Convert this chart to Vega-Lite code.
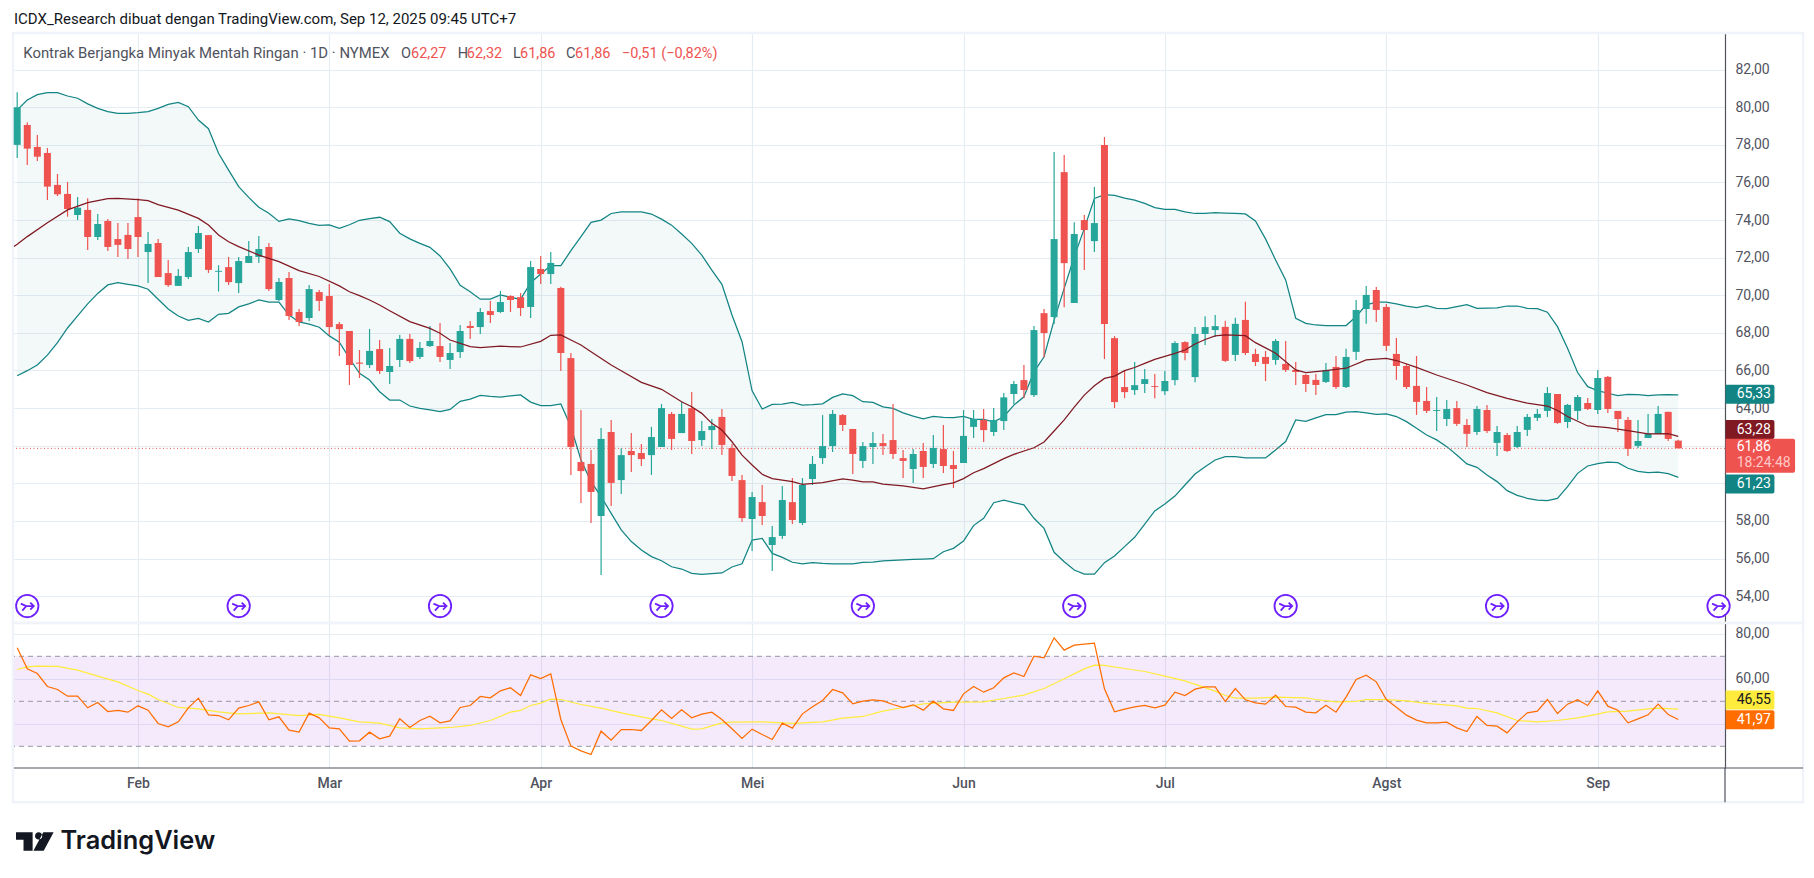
{
  "$schema": "https://vega.github.io/schema/vega-lite/v6.json",
  "description": "Light crude oil futures daily candles with Bollinger bands and RSI, Jan to Sep 2025.",
  "background": "white",
  "padding": {"left": 11, "top": 11, "right": 0, "bottom": 0},
  "title": {
    "text": "ICDX_Research dibuat dengan TradingView.com, Sep 12, 2025 09:45 UTC+7",
    "anchor": "start",
    "frame": "group",
    "font": "Roboto",
    "fontSize": 15,
    "fontWeight": "normal",
    "color": "#131722",
    "offset": 5
  },
  "bounds": "flush",
  "spacing": 0,
  "config": {
    "view": {"stroke": null},
    "axis": {
      "title": null,
      "ticks": false,
      "domain": false,
      "gridColor": "#e6edf2",
      "gridWidth": 1.2,
      "labelFont": "Roboto",
      "labelFontSize": 14,
      "labelColor": "#50535e"
    },
    "text": {"font": "Roboto", "fontSize": 14.5}
  },
  "datasets": {
    "bars": [
      {"i":0,"o":78,"h":80.8,"l":77.3,"c":80,"up":79.86,"lo":65.72,"rsi":73.77},
      {"i":1,"o":79.06,"h":79.2,"l":76.93,"c":77.8,"up":80.39,"lo":65.99,"rsi":64.43},
      {"i":2,"o":77.89,"h":78.53,"l":77.14,"c":77.37,"up":80.67,"lo":66.29,"rsi":62.36},
      {"i":3,"o":77.57,"h":77.83,"l":75.07,"c":75.78,"up":80.78,"lo":66.82,"rsi":56.58},
      {"i":4,"o":75.87,"h":76.45,"l":75.28,"c":75.37,"up":80.78,"lo":67.48,"rsi":55.25},
      {"i":5,"o":75.39,"h":76.03,"l":74.18,"c":74.59,"up":80.6,"lo":68.26,"rsi":52.29},
      {"i":6,"o":74.27,"h":75.23,"l":74,"c":74.66,"up":80.48,"lo":68.9,"rsi":52.29},
      {"i":7,"o":74.54,"h":75.16,"l":72.41,"c":73.1,"up":80.18,"lo":69.54,"rsi":47.1},
      {"i":8,"o":73.1,"h":74.32,"l":72.94,"c":73.79,"up":79.94,"lo":70.1,"rsi":49.47},
      {"i":9,"o":73.95,"h":74.06,"l":72.36,"c":72.57,"up":79.77,"lo":70.55,"rsi":45.47},
      {"i":10,"o":72.99,"h":73.85,"l":72.04,"c":72.68,"up":79.68,"lo":70.67,"rsi":45.92},
      {"i":11,"o":73.21,"h":73.85,"l":71.93,"c":72.46,"up":79.68,"lo":70.58,"rsi":45.17},
      {"i":12,"o":74.16,"h":75.16,"l":72.04,"c":73.1,"up":79.71,"lo":70.5,"rsi":47.99},
      {"i":13,"o":72.3,"h":73.37,"l":70.65,"c":72.73,"up":79.77,"lo":70.32,"rsi":46.07},
      {"i":14,"o":72.78,"h":72.99,"l":70.97,"c":70.97,"up":79.94,"lo":69.79,"rsi":40.14},
      {"i":15,"o":71.18,"h":71.88,"l":70.46,"c":70.54,"up":80.15,"lo":69.27,"rsi":38.66},
      {"i":16,"o":70.5,"h":71.4,"l":70.5,"c":71.03,"up":80.26,"lo":68.9,"rsi":40.88},
      {"i":17,"o":70.97,"h":72.57,"l":70.87,"c":72.3,"up":80.03,"lo":68.67,"rsi":47.1},
      {"i":18,"o":72.46,"h":73.69,"l":72.25,"c":73.31,"up":79.32,"lo":68.77,"rsi":51.4},
      {"i":19,"o":73.2,"h":73.21,"l":71.19,"c":71.35,"up":78.86,"lo":68.58,"rsi":43.99},
      {"i":20,"o":71.25,"h":71.6,"l":70.2,"c":71.3,"up":77.55,"lo":68.99,"rsi":43.69},
      {"i":21,"o":71.5,"h":72.04,"l":70.55,"c":70.7,"up":76.66,"lo":69.04,"rsi":41.77},
      {"i":22,"o":70.65,"h":72.04,"l":70.12,"c":71.82,"up":75.78,"lo":69.38,"rsi":46.95},
      {"i":23,"o":71.72,"h":72.89,"l":71.72,"c":72.09,"up":75.21,"lo":69.54,"rsi":48.14},
      {"i":24,"o":72.04,"h":73.15,"l":71.72,"c":72.46,"up":74.68,"lo":69.75,"rsi":49.77},
      {"i":25,"o":72.57,"h":72.78,"l":70.23,"c":70.33,"up":74.36,"lo":69.64,"rsi":41.77},
      {"i":26,"o":69.75,"h":70.92,"l":69.7,"c":70.71,"up":73.93,"lo":69.64,"rsi":43.1},
      {"i":27,"o":70.92,"h":71.24,"l":68.69,"c":68.9,"up":74.06,"lo":68.95,"rsi":37.17},
      {"i":28,"o":69.11,"h":69.27,"l":68.37,"c":68.58,"up":73.97,"lo":68.58,"rsi":36.29},
      {"i":29,"o":68.79,"h":70.55,"l":68.63,"c":70.33,"up":73.82,"lo":68.47,"rsi":44.73},
      {"i":30,"o":70.17,"h":70.28,"l":69.16,"c":69.7,"up":73.72,"lo":68.3,"rsi":42.66},
      {"i":31,"o":69.96,"h":70.6,"l":67.89,"c":68.31,"up":73.74,"lo":67.84,"rsi":38.21},
      {"i":32,"o":68.47,"h":68.58,"l":66.77,"c":68.2,"up":73.56,"lo":67.5,"rsi":37.77},
      {"i":33,"o":68.1,"h":68.1,"l":65.23,"c":66.29,"up":73.75,"lo":66.65,"rsi":32.29},
      {"i":34,"o":66.42,"h":67.09,"l":65.6,"c":66.36,"up":73.99,"lo":65.85,"rsi":32.44},
      {"i":35,"o":66.29,"h":68.21,"l":66.13,"c":67.04,"up":74.08,"lo":65.49,"rsi":36.29},
      {"i":36,"o":67.14,"h":67.62,"l":65.81,"c":65.97,"up":74.15,"lo":64.87,"rsi":33.32},
      {"i":37,"o":65.92,"h":67.2,"l":65.28,"c":66.24,"up":73.92,"lo":64.43,"rsi":34.51},
      {"i":38,"o":66.56,"h":67.89,"l":66.19,"c":67.68,"up":73.3,"lo":64.43,"rsi":42.21},
      {"i":39,"o":67.68,"h":67.94,"l":66.4,"c":66.5,"up":73,"lo":64.11,"rsi":38.36},
      {"i":40,"o":66.72,"h":67.52,"l":66.61,"c":67.2,"up":72.76,"lo":63.99,"rsi":41.47},
      {"i":41,"o":67.3,"h":68.37,"l":67.25,"c":67.57,"up":72.55,"lo":63.9,"rsi":43.4},
      {"i":42,"o":67.3,"h":68.53,"l":66.45,"c":66.72,"up":72.09,"lo":63.81,"rsi":40.43},
      {"i":43,"o":66.56,"h":67.46,"l":66.08,"c":66.93,"up":71.4,"lo":63.93,"rsi":41.32},
      {"i":44,"o":66.98,"h":68.42,"l":66.66,"c":68.1,"up":70.53,"lo":64.36,"rsi":47.25},
      {"i":45,"o":68.37,"h":68.63,"l":67.68,"c":68.26,"up":70.19,"lo":64.48,"rsi":48.14},
      {"i":46,"o":68.31,"h":69.32,"l":67.94,"c":69.11,"up":69.79,"lo":64.68,"rsi":52.14},
      {"i":47,"o":69.16,"h":69.7,"l":68.53,"c":68.95,"up":69.8,"lo":64.62,"rsi":51.55},
      {"i":48,"o":69.11,"h":70.23,"l":69.06,"c":69.64,"up":70.02,"lo":64.59,"rsi":54.66},
      {"i":49,"o":69.96,"h":70,"l":69.11,"c":69.75,"up":69.89,"lo":64.65,"rsi":56},
      {"i":50,"o":69.9,"h":70.12,"l":68.9,"c":69.32,"up":69.79,"lo":64.7,"rsi":52.58},
      {"i":51,"o":69.38,"h":71.82,"l":68.79,"c":71.5,"up":70.67,"lo":64.32,"rsi":61.77},
      {"i":52,"o":71.4,"h":72.09,"l":70.6,"c":71.13,"up":71.13,"lo":64.13,"rsi":60.14},
      {"i":53,"o":71.13,"h":72.3,"l":70.6,"c":71.72,"up":71.58,"lo":64.13,"rsi":62.21},
      {"i":54,"o":70.39,"h":70.46,"l":65.97,"c":66.93,"up":71.58,"lo":64.22,"rsi":41.92},
      {"i":55,"o":66.66,"h":66.93,"l":60.44,"c":61.93,"up":72.37,"lo":63.01,"rsi":30.07},
      {"i":56,"o":61.13,"h":63.9,"l":58.95,"c":60.65,"up":73.12,"lo":61.24,"rsi":27.99},
      {"i":57,"o":61.03,"h":61.77,"l":57.89,"c":59.54,"up":73.88,"lo":60.09,"rsi":26.36},
      {"i":58,"o":58.26,"h":62.94,"l":55.12,"c":62.36,"up":74,"lo":59.29,"rsi":36.73},
      {"i":59,"o":62.73,"h":63.37,"l":58.79,"c":60.02,"up":74.35,"lo":58.4,"rsi":32.73},
      {"i":60,"o":60.17,"h":61.86,"l":59.43,"c":61.5,"up":74.44,"lo":57.52,"rsi":37.47},
      {"i":61,"o":61.72,"h":62.67,"l":60.6,"c":61.5,"up":74.44,"lo":56.9,"rsi":37.47},
      {"i":62,"o":61.61,"h":62.09,"l":60.92,"c":61.29,"up":74.44,"lo":56.45,"rsi":37.03},
      {"i":63,"o":61.5,"h":63,"l":60.44,"c":62.46,"up":74.32,"lo":56.1,"rsi":41.47},
      {"i":64,"o":61.93,"h":64.22,"l":61.93,"c":64,"up":74.05,"lo":55.88,"rsi":46.21},
      {"i":65,"o":63.69,"h":63.79,"l":61.77,"c":62.36,"up":73.73,"lo":55.56,"rsi":42.36},
      {"i":66,"o":62.67,"h":64.32,"l":62.67,"c":63.69,"up":73.26,"lo":55.44,"rsi":46.21},
      {"i":67,"o":64,"h":64.85,"l":61.56,"c":62.25,"up":72.76,"lo":55.21,"rsi":42.66},
      {"i":68,"o":62.3,"h":63.31,"l":61.98,"c":62.78,"up":72.14,"lo":55.16,"rsi":44.29},
      {"i":69,"o":62.83,"h":63.42,"l":61.82,"c":63.05,"up":71.34,"lo":55.2,"rsi":45.17},
      {"i":70,"o":63.53,"h":63.95,"l":61.5,"c":62.04,"up":70.58,"lo":55.23,"rsi":41.92},
      {"i":71,"o":61.88,"h":62.09,"l":60.12,"c":60.39,"up":68.95,"lo":55.55,"rsi":37.77},
      {"i":72,"o":60.17,"h":60.44,"l":57.94,"c":58.15,"up":67.53,"lo":55.72,"rsi":33.47},
      {"i":73,"o":58.1,"h":59.54,"l":56.4,"c":59.27,"up":64.92,"lo":56.98,"rsi":37.62},
      {"i":74,"o":59,"h":59.91,"l":57.78,"c":58.26,"up":63.95,"lo":57.07,"rsi":35.25},
      {"i":75,"o":56.72,"h":57.73,"l":55.33,"c":57.14,"up":64.2,"lo":56.27,"rsi":33.03},
      {"i":76,"o":57.2,"h":59.86,"l":57.04,"c":59.11,"up":64.21,"lo":56.06,"rsi":40.29},
      {"i":77,"o":59,"h":60.28,"l":57.83,"c":58.05,"up":64.3,"lo":55.8,"rsi":38.07},
      {"i":78,"o":57.89,"h":60.28,"l":57.78,"c":59.91,"up":64.16,"lo":55.71,"rsi":44.43},
      {"i":79,"o":60.23,"h":61.45,"l":59.91,"c":61.03,"up":64.18,"lo":55.78,"rsi":47.55},
      {"i":80,"o":61.34,"h":63.63,"l":61.03,"c":61.98,"up":64.23,"lo":55.74,"rsi":50.36},
      {"i":81,"o":61.98,"h":63.9,"l":61.66,"c":63.69,"up":64.57,"lo":55.72,"rsi":55.25},
      {"i":82,"o":63.63,"h":63.69,"l":62.78,"c":63.1,"up":64.75,"lo":55.71,"rsi":53.77},
      {"i":83,"o":62.89,"h":62.89,"l":60.49,"c":61.56,"up":64.66,"lo":55.71,"rsi":48.88},
      {"i":84,"o":61.19,"h":62.2,"l":60.81,"c":61.98,"up":64.34,"lo":55.8,"rsi":50.06},
      {"i":85,"o":61.93,"h":62.73,"l":61.03,"c":62.14,"up":64.3,"lo":55.81,"rsi":50.66},
      {"i":86,"o":62.14,"h":62.62,"l":61.5,"c":61.98,"up":64.07,"lo":55.88,"rsi":50.21},
      {"i":87,"o":62.3,"h":64.22,"l":61.29,"c":61.56,"up":63.98,"lo":55.9,"rsi":48.58},
      {"i":88,"o":61.34,"h":61.77,"l":60.28,"c":61.19,"up":63.75,"lo":55.93,"rsi":47.25},
      {"i":89,"o":60.76,"h":61.82,"l":60.02,"c":61.56,"up":63.57,"lo":55.95,"rsi":48.44},
      {"i":90,"o":61.72,"h":62.14,"l":60.28,"c":60.87,"up":63.43,"lo":55.97,"rsi":46.07},
      {"i":91,"o":61.03,"h":62.57,"l":60.81,"c":61.88,"up":63.56,"lo":55.99,"rsi":50.06},
      {"i":92,"o":61.82,"h":63.1,"l":60.55,"c":60.92,"up":63.5,"lo":56.36,"rsi":46.66},
      {"i":93,"o":60.97,"h":61.72,"l":59.75,"c":60.76,"up":63.49,"lo":56.54,"rsi":45.92},
      {"i":94,"o":61.08,"h":63.9,"l":61.08,"c":62.52,"up":63.56,"lo":56.93,"rsi":53.32},
      {"i":95,"o":63,"h":63.9,"l":62.41,"c":63.42,"up":63.4,"lo":57.75,"rsi":56.58},
      {"i":96,"o":63.37,"h":63.95,"l":62.2,"c":62.83,"up":63.4,"lo":58.14,"rsi":54.06},
      {"i":97,"o":62.73,"h":64,"l":62.52,"c":63.37,"up":63.27,"lo":58.97,"rsi":56},
      {"i":98,"o":63.31,"h":64.8,"l":62.83,"c":64.57,"up":63.54,"lo":59.11,"rsi":60.43},
      {"i":99,"o":64.75,"h":65.44,"l":64.21,"c":65.28,"up":64.16,"lo":58.97,"rsi":62.66},
      {"i":100,"o":65.49,"h":66.29,"l":64.53,"c":64.96,"up":64.6,"lo":58.85,"rsi":61},
      {"i":101,"o":64.69,"h":68.36,"l":64.59,"c":68.15,"up":65.93,"lo":58.14,"rsi":70.06},
      {"i":102,"o":69.05,"h":69.27,"l":66.71,"c":67.99,"up":66.73,"lo":57.6,"rsi":69.32},
      {"i":103,"o":68.84,"h":77.62,"l":68.47,"c":72.99,"up":68.68,"lo":56.33,"rsi":78.21},
      {"i":104,"o":76.55,"h":77.46,"l":69.37,"c":71.71,"up":70.37,"lo":55.83,"rsi":72.73},
      {"i":105,"o":69.59,"h":73.89,"l":69.59,"c":73.26,"up":72.05,"lo":55.39,"rsi":74.95},
      {"i":106,"o":74,"h":74.27,"l":71.34,"c":73.47,"up":73.56,"lo":55.17,"rsi":75.4},
      {"i":107,"o":72.88,"h":75.76,"l":72.3,"c":73.84,"up":75.15,"lo":55.17,"rsi":75.84},
      {"i":108,"o":77.99,"h":78.42,"l":66.61,"c":68.47,"up":75.35,"lo":55.78,"rsi":55.55},
      {"i":109,"o":67.72,"h":67.83,"l":64,"c":64.32,"up":75.31,"lo":56.13,"rsi":45.32},
      {"i":110,"o":65.12,"h":66.02,"l":64.53,"c":64.85,"up":75.17,"lo":56.63,"rsi":46.51},
      {"i":111,"o":64.96,"h":66.45,"l":64.69,"c":65.22,"up":75.06,"lo":57.13,"rsi":47.55},
      {"i":112,"o":65.28,"h":66.08,"l":64.8,"c":65.54,"up":74.89,"lo":57.83,"rsi":48.14},
      {"i":113,"o":65.17,"h":65.81,"l":64.53,"c":65.12,"up":74.66,"lo":58.53,"rsi":47.1},
      {"i":114,"o":64.9,"h":65.97,"l":64.69,"c":65.44,"up":74.57,"lo":58.9,"rsi":48.29},
      {"i":115,"o":65.49,"h":67.56,"l":65.22,"c":67.46,"up":74.57,"lo":59.32,"rsi":54.06},
      {"i":116,"o":67.51,"h":67.56,"l":66.55,"c":66.93,"up":74.44,"lo":59.91,"rsi":52.58},
      {"i":117,"o":65.65,"h":68.31,"l":65.38,"c":67.94,"up":74.35,"lo":60.49,"rsi":55.4},
      {"i":118,"o":67.94,"h":68.89,"l":67.35,"c":68.31,"up":74.35,"lo":60.88,"rsi":56.43},
      {"i":119,"o":68.15,"h":68.95,"l":67.78,"c":68.36,"up":74.39,"lo":61.24,"rsi":56.43},
      {"i":120,"o":68.32,"h":68.64,"l":66.45,"c":66.51,"up":74.37,"lo":61.42,"rsi":49.92},
      {"i":121,"o":66.83,"h":68.8,"l":66.51,"c":68.48,"up":74.35,"lo":61.42,"rsi":55.69},
      {"i":122,"o":68.69,"h":69.65,"l":66.83,"c":66.93,"up":74.33,"lo":61.35,"rsi":50.66},
      {"i":123,"o":66.88,"h":67.15,"l":66.24,"c":66.45,"up":73.95,"lo":61.35,"rsi":49.32},
      {"i":124,"o":66.72,"h":67.04,"l":65.44,"c":66.35,"up":73,"lo":61.35,"rsi":48.73},
      {"i":125,"o":66.56,"h":67.68,"l":66.3,"c":67.57,"up":71.88,"lo":61.77,"rsi":52.73},
      {"i":126,"o":66.35,"h":67.57,"l":65.92,"c":66.03,"up":70.82,"lo":62.22,"rsi":47.69},
      {"i":127,"o":66.03,"h":66.45,"l":65.23,"c":65.92,"up":68.78,"lo":63.37,"rsi":47.4},
      {"i":128,"o":65.76,"h":65.82,"l":64.86,"c":65.28,"up":68.51,"lo":63.3,"rsi":45.17},
      {"i":129,"o":65.5,"h":65.82,"l":64.7,"c":65.23,"up":68.42,"lo":63.48,"rsi":44.88},
      {"i":130,"o":65.39,"h":66.4,"l":65.34,"c":66.03,"up":68.39,"lo":63.65,"rsi":48.29},
      {"i":131,"o":66.19,"h":66.77,"l":65.02,"c":65.12,"up":68.39,"lo":63.65,"rsi":45.17},
      {"i":132,"o":65.12,"h":67.15,"l":65.07,"c":66.72,"up":68.39,"lo":63.79,"rsi":51.84},
      {"i":133,"o":66.99,"h":69.75,"l":66.56,"c":69.22,"up":68.87,"lo":63.81,"rsi":59.69},
      {"i":134,"o":69.27,"h":70.5,"l":68.48,"c":70.02,"up":69.49,"lo":63.74,"rsi":61.62},
      {"i":135,"o":70.28,"h":70.44,"l":68.58,"c":69.22,"up":69.63,"lo":63.67,"rsi":58.66},
      {"i":136,"o":69.38,"h":69.54,"l":67.04,"c":67.31,"up":69.63,"lo":63.69,"rsi":50.8},
      {"i":137,"o":66.88,"h":67.73,"l":65.5,"c":66.24,"up":69.54,"lo":63.55,"rsi":47.4},
      {"i":138,"o":66.24,"h":66.35,"l":65.02,"c":65.12,"up":69.42,"lo":63.28,"rsi":43.84},
      {"i":139,"o":65.18,"h":66.77,"l":63.64,"c":64.33,"up":69.34,"lo":62.93,"rsi":41.62},
      {"i":140,"o":64.38,"h":65.12,"l":63.74,"c":63.85,"up":69.45,"lo":62.57,"rsi":40.43},
      {"i":141,"o":63.85,"h":64.59,"l":62.78,"c":63.9,"up":69.31,"lo":62.31,"rsi":40.43},
      {"i":142,"o":63.42,"h":64.43,"l":63.05,"c":63.95,"up":69.29,"lo":61.95,"rsi":40.73},
      {"i":143,"o":64,"h":64.38,"l":63.05,"c":63.16,"up":69.4,"lo":61.51,"rsi":38.21},
      {"i":144,"o":63.1,"h":63.42,"l":61.93,"c":62.63,"up":69.5,"lo":61.03,"rsi":36.58},
      {"i":145,"o":62.73,"h":64.11,"l":62.57,"c":63.95,"up":69.31,"lo":60.85,"rsi":43.25},
      {"i":146,"o":63.9,"h":64.17,"l":62.68,"c":62.78,"up":69.32,"lo":60.44,"rsi":39.25},
      {"i":147,"o":62.15,"h":63.05,"l":61.45,"c":62.73,"up":69.33,"lo":60.09,"rsi":38.95},
      {"i":148,"o":62.57,"h":62.68,"l":61.67,"c":61.72,"up":69.43,"lo":59.61,"rsi":35.99},
      {"i":149,"o":61.93,"h":63.05,"l":61.88,"c":62.73,"up":69.43,"lo":59.36,"rsi":40.88},
      {"i":150,"o":62.84,"h":63.69,"l":62.52,"c":63.53,"up":69.31,"lo":59.2,"rsi":44.88},
      {"i":151,"o":63.48,"h":63.95,"l":63.32,"c":63.69,"up":69.29,"lo":59.11,"rsi":45.62},
      {"i":152,"o":63.85,"h":65.12,"l":63.53,"c":64.8,"up":69.1,"lo":59.08,"rsi":50.8},
      {"i":153,"o":64.75,"h":64.75,"l":63.16,"c":63.21,"up":68.33,"lo":59.2,"rsi":44.58},
      {"i":154,"o":63.26,"h":64.22,"l":62.94,"c":64.17,"up":67.18,"lo":59.82,"rsi":48.73},
      {"i":155,"o":63.85,"h":64.7,"l":63.37,"c":64.59,"up":65.89,"lo":60.53,"rsi":50.66},
      {"i":156,"o":64.27,"h":64.54,"l":63.9,"c":63.95,"up":65.14,"lo":60.92,"rsi":48.14},
      {"i":157,"o":63.9,"h":66.03,"l":63.69,"c":65.6,"up":64.93,"lo":61.05,"rsi":54.66},
      {"i":158,"o":65.66,"h":65.71,"l":63.74,"c":63.95,"up":64.79,"lo":61.12,"rsi":47.84},
      {"i":159,"o":63.85,"h":63.85,"l":62.73,"c":63.42,"up":64.66,"lo":61.1,"rsi":46.07},
      {"i":160,"o":63.37,"h":63.53,"l":61.45,"c":61.83,"up":64.73,"lo":60.8,"rsi":40.43},
      {"i":161,"o":61.99,"h":63.37,"l":61.88,"c":62.25,"up":64.72,"lo":60.64,"rsi":42.21},
      {"i":162,"o":62.41,"h":63.69,"l":62.41,"c":62.63,"up":64.66,"lo":60.57,"rsi":43.99},
      {"i":163,"o":62.63,"h":64.11,"l":62.63,"c":63.69,"up":64.7,"lo":60.59,"rsi":48.73},
      {"i":164,"o":63.8,"h":63.8,"l":62.25,"c":62.36,"up":64.72,"lo":60.51,"rsi":44.14},
      {"i":165,"o":62.27,"h":62.32,"l":61.86,"c":61.86,"up":64.7,"lo":60.32,"rsi":41.92}
    ],
    "basis": [
      {"i":-0.32,"v":72.59},{"i":0,"v":72.71},{"i":1,"v":73.12},{"i":3,"v":73.86},{"i":5,"v":74.54},{"i":7,"v":74.93},{"i":9,"v":75.14},{"i":10,"v":75.16},{"i":12,"v":75.09},{"i":13,"v":75.03},{"i":14,"v":74.82},{"i":16,"v":74.53},{"i":18,"v":74.09},{"i":19,"v":73.74},{"i":20,"v":73.21},{"i":21,"v":72.85},{"i":22,"v":72.59},{"i":24,"v":72.14},{"i":26,"v":71.79},{"i":28,"v":71.31},{"i":30,"v":71},{"i":32,"v":70.5},{"i":33,"v":70.19},{"i":34,"v":69.98},{"i":35,"v":69.75},{"i":36,"v":69.48},{"i":37,"v":69.18},{"i":39,"v":68.6},{"i":41,"v":68.24},{"i":42,"v":67.98},{"i":43,"v":67.62},{"i":45,"v":67.27},{"i":46,"v":67.21},{"i":48,"v":67.29},{"i":50,"v":67.25},{"i":52,"v":67.55},{"i":53,"v":67.87},{"i":54,"v":67.89},{"i":55,"v":67.62},{"i":56,"v":67.36},{"i":57,"v":67},{"i":59,"v":66.29},{"i":60,"v":65.99},{"i":62,"v":65.37},{"i":64,"v":65},{"i":66,"v":64.34},{"i":67,"v":64.07},{"i":68,"v":63.72},{"i":69,"v":63.19},{"i":70,"v":62.83},{"i":71,"v":62.21},{"i":72,"v":61.5},{"i":73,"v":60.97},{"i":74,"v":60.48},{"i":75,"v":60.25},{"i":77,"v":60.09},{"i":78,"v":59.94},{"i":80,"v":60.03},{"i":82,"v":60.23},{"i":83,"v":60.17},{"i":84,"v":60.07},{"i":85,"v":60.07},{"i":86,"v":59.96},{"i":88,"v":59.86},{"i":90,"v":59.7},{"i":92,"v":59.93},{"i":93,"v":60.02},{"i":94,"v":60.25},{"i":95,"v":60.56},{"i":96,"v":60.78},{"i":98,"v":61.31},{"i":99,"v":61.54},{"i":101,"v":61.89},{"i":102,"v":62.2},{"i":103,"v":62.78},{"i":104,"v":63.37},{"i":105,"v":64.05},{"i":106,"v":64.69},{"i":107,"v":65.19},{"i":108,"v":65.58},{"i":109,"v":65.7},{"i":110,"v":65.99},{"i":111,"v":66.16},{"i":112,"v":66.38},{"i":113,"v":66.59},{"i":115,"v":66.91},{"i":116,"v":67.09},{"i":117,"v":67.41},{"i":118,"v":67.65},{"i":119,"v":67.84},{"i":120,"v":67.89},{"i":122,"v":67.85},{"i":123,"v":67.48},{"i":125,"v":66.92},{"i":127,"v":66.03},{"i":128,"v":65.89},{"i":130,"v":65.99},{"i":132,"v":66.12},{"i":134,"v":66.56},{"i":136,"v":66.65},{"i":137,"v":66.53},{"i":139,"v":66.17},{"i":141,"v":65.76},{"i":144,"v":65.23},{"i":146,"v":64.82},{"i":148,"v":64.52},{"i":150,"v":64.26},{"i":152,"v":64.11},{"i":153,"v":63.87},{"i":154,"v":63.55},{"i":156,"v":63.05},{"i":158,"v":62.96},{"i":160,"v":62.8},{"i":162,"v":62.63},{"i":164,"v":62.64},{"i":165,"v":62.5}
    ],
    "rsiMa": [
      {"i":0,"v":64.14},{"i":1,"v":65.32},{"i":2,"v":65.62},{"i":4,"v":65.47},{"i":6,"v":63.84},{"i":8,"v":61.17},{"i":10,"v":58.66},{"i":12,"v":54.8},{"i":13,"v":53.17},{"i":14,"v":50.8},{"i":16,"v":47.25},{"i":18,"v":46.66},{"i":20,"v":45.32},{"i":22,"v":44.43},{"i":25,"v":44.88},{"i":28,"v":43.69},{"i":30,"v":44.14},{"i":32,"v":42.66},{"i":34,"v":40.88},{"i":36,"v":40.29},{"i":38,"v":38.21},{"i":40,"v":37.77},{"i":43,"v":38.36},{"i":45,"v":39.25},{"i":47,"v":41.47},{"i":49,"v":45.17},{"i":50,"v":45.92},{"i":51,"v":48.14},{"i":52,"v":49.18},{"i":53,"v":50.95},{"i":54,"v":50.8},{"i":56,"v":48.58},{"i":58,"v":46.95},{"i":60,"v":44.88},{"i":63,"v":42.21},{"i":64,"v":41.47},{"i":66,"v":38.95},{"i":67,"v":37.62},{"i":68,"v":37.77},{"i":70,"v":40.43},{"i":71,"v":40.73},{"i":74,"v":40.88},{"i":77,"v":40.14},{"i":80,"v":40.88},{"i":82,"v":42.51},{"i":84,"v":43.25},{"i":86,"v":45.62},{"i":88,"v":47.25},{"i":90,"v":48.88},{"i":93,"v":49.62},{"i":96,"v":49.77},{"i":98,"v":51.25},{"i":100,"v":52.73},{"i":102,"v":55.69},{"i":104,"v":60},{"i":106,"v":64.43},{"i":107,"v":66.06},{"i":108,"v":65.92},{"i":110,"v":64.58},{"i":112,"v":63.25},{"i":114,"v":61.17},{"i":116,"v":59.1},{"i":118,"v":56.1},{"i":119,"v":54.51},{"i":120,"v":52.58},{"i":121,"v":51.4},{"i":123,"v":51.4},{"i":125,"v":51.84},{"i":128,"v":51.55},{"i":129,"v":50.8},{"i":131,"v":49.77},{"i":133,"v":49.92},{"i":134,"v":50.8},{"i":136,"v":50.8},{"i":138,"v":50.21},{"i":140,"v":49.03},{"i":143,"v":48},{"i":144,"v":46.95},{"i":145,"v":46.8},{"i":147,"v":44.88},{"i":149,"v":41.47},{"i":151,"v":40.88},{"i":153,"v":41.47},{"i":155,"v":42.66},{"i":157,"v":44.29},{"i":158,"v":45.32},{"i":160,"v":45.62},{"i":162,"v":46.66},{"i":163,"v":46.95},{"i":165,"v":46.51}
    ],
    "rollovers": [{"i":1},{"i":22},{"i":42},{"i":64},{"i":84},{"i":105},{"i":126},{"i":147},{"i":169}],
    "priceTags": [
      {"name":"upper","at":64.73,"label":"65,33"},
      {"name":"basis","at":62.86,"label":"63,28"},
      {"name":"lower","at":59.96,"label":"61,23"}
    ],
    "rsiTags": [
      {"name":"ma","at":50.6,"label":"46,55"},
      {"name":"rsi","at":41.8,"label":"41,97"}
    ]
  },
  "vconcat": [
    {
      "width": 1711,
      "height": 590,
      "data": {"values": [{}]},
      "resolve": {"axis": {"y": "independent"}},
      "layer": [
        {
          "mark": {"type": "rect", "fill": null, "stroke": "#f0f3fa", "strokeWidth": 2.5},
          "encoding": {
            "x": {"datum": -0.42, "scale": {"domain": [-0.318, 169.64], "nice": false, "zero": false, "padding": 0},
              "axis": {"values": [12,31,52,73,94,114,136,157], "labels": false, "grid": true}},
            "x2": {"datum": 177.4},
            "y": {"datum": 83.95, "scale": {"domain": [52.57, 83.95], "nice": false, "zero": false},
              "axis": {"orient": "right", "values": [54,56,58,60,62,64,66,68,70,72,74,76,78,80,82], "domain": true, "domainColor": "#50535e", "domainWidth": 1.2, "grid": true, "labelPadding": 10, "labelExpr": "replace(format(datum.value, '.2f'), '.', ',')"}},
            "y2": {"datum": 52.57}
          }
        },
        {
          "data": {"name": "bars"},
          "mark": {"type": "area", "color": "#138484", "opacity": 0.05},
          "encoding": {
            "x": {"field": "i", "type": "quantitative"},
            "y": {"field": "up", "type": "quantitative", "axis": null},
            "y2": {"field": "lo"}
          }
        },
        {
          "data": {"name": "bars"},
          "mark": {"type": "line", "color": "#138484", "strokeWidth": 1.25},
          "encoding": {
            "x": {"field": "i", "type": "quantitative"},
            "y": {"field": "up", "type": "quantitative", "axis": null}
          }
        },
        {
          "data": {"name": "bars"},
          "mark": {"type": "line", "color": "#138484", "strokeWidth": 1.25},
          "encoding": {
            "x": {"field": "i", "type": "quantitative"},
            "y": {"field": "lo", "type": "quantitative", "axis": null}
          }
        },
        {
          "mark": {"type": "rule", "color": "#ef5350", "strokeWidth": 1, "strokeDash": [1, 2.5]},
          "encoding": {"y": {"datum": 61.86, "axis": null}}
        },
        {
          "data": {"name": "bars"},
          "mark": {"type": "rule", "strokeWidth": 1.2},
          "encoding": {
            "x": {"field": "i", "type": "quantitative"},
            "y": {"field": "l", "type": "quantitative", "axis": null},
            "y2": {"field": "h"},
            "color": {"condition": {"test": "datum.c >= datum.o", "value": "#26a69a"}, "value": "#ef5350"}
          }
        },
        {
          "data": {"name": "bars"},
          "mark": {"type": "bar", "size": 7, "orient": "vertical"},
          "encoding": {
            "x": {"field": "i", "type": "quantitative"},
            "y": {"field": "o", "type": "quantitative", "axis": null},
            "y2": {"field": "c"},
            "color": {"condition": {"test": "datum.c >= datum.o", "value": "#26a69a"}, "value": "#ef5350"}
          }
        },
        {
          "data": {"name": "basis"},
          "mark": {"type": "line", "color": "#801922", "strokeWidth": 1.25},
          "encoding": {
            "x": {"field": "i", "type": "quantitative"},
            "y": {"field": "v", "type": "quantitative", "axis": null}
          }
        },
        {
          "data": {"name": "rollovers"},
          "mark": {"type": "point", "shape": "circle", "size": 500, "fill": "white", "fillOpacity": 1, "stroke": "#6e1fff", "strokeWidth": 1.8, "opacity": 1},
          "encoding": {
            "x": {"field": "i", "type": "quantitative"},
            "y": {"datum": 53.47, "axis": null}
          }
        },
        {
          "data": {"name": "rollovers"},
          "mark": {"type": "point", "shape": "M-0.65,-0.25L-0.1,0L0.65,0M0.3,-0.35L0.65,0L0.3,0.35M-0.1,0L-0.5,0.45", "size": 400, "filled": false, "stroke": "#6e1fff", "strokeWidth": 1.8, "opacity": 1},
          "encoding": {
            "x": {"field": "i", "type": "quantitative"},
            "y": {"datum": 53.47, "axis": null}
          }
        },
        {
          "mark": {"type": "text", "align": "left", "color": "#50535e", "fontSize": 14.9},
          "encoding": {"x": {"datum": 0.6}, "y": {"datum": 82.84, "axis": null}, "text": {"value": "Kontrak Berjangka Minyak Mentah Ringan · 1D · NYMEX"}}
        },
        {
          "mark": {"type": "text", "align": "left", "color": "#50535e"},
          "encoding": {"x": {"datum": 38.13}, "y": {"datum": 82.84, "axis": null}, "text": {"value": "O"}}
        },
        {
          "mark": {"type": "text", "align": "left", "color": "#ef5350"},
          "encoding": {"x": {"datum": 39.12}, "y": {"datum": 82.84, "axis": null}, "text": {"value": "62,27"}}
        },
        {
          "mark": {"type": "text", "align": "left", "color": "#50535e"},
          "encoding": {"x": {"datum": 43.76}, "y": {"datum": 82.84, "axis": null}, "text": {"value": "H"}}
        },
        {
          "mark": {"type": "text", "align": "left", "color": "#ef5350"},
          "encoding": {"x": {"datum": 44.66}, "y": {"datum": 82.84, "axis": null}, "text": {"value": "62,32"}}
        },
        {
          "mark": {"type": "text", "align": "left", "color": "#50535e"},
          "encoding": {"x": {"datum": 49.25}, "y": {"datum": 82.84, "axis": null}, "text": {"value": "L"}}
        },
        {
          "mark": {"type": "text", "align": "left", "color": "#ef5350"},
          "encoding": {"x": {"datum": 49.95}, "y": {"datum": 82.84, "axis": null}, "text": {"value": "61,86"}}
        },
        {
          "mark": {"type": "text", "align": "left", "color": "#50535e"},
          "encoding": {"x": {"datum": 54.52}, "y": {"datum": 82.84, "axis": null}, "text": {"value": "C"}}
        },
        {
          "mark": {"type": "text", "align": "left", "color": "#ef5350"},
          "encoding": {"x": {"datum": 55.41}, "y": {"datum": 82.84, "axis": null}, "text": {"value": "61,86"}}
        },
        {
          "mark": {"type": "text", "align": "left", "color": "#ef5350"},
          "encoding": {"x": {"datum": 60.08}, "y": {"datum": 82.84, "axis": null}, "text": {"value": "−0,51 (−0,82%)"}}
        },
        {
          "data": {"name": "priceTags"},
          "mark": {"type": "rect", "height": 19, "cornerRadiusTopRight": 2, "cornerRadiusBottomRight": 2},
          "encoding": {
            "x": {"datum": 169.7},
            "x2": {"datum": 174.55},
            "y": {"field": "at", "type": "quantitative", "axis": null},
            "color": {"condition": {"test": "datum.name === 'basis'", "value": "#801922"}, "value": "#138484"}
          }
        },
        {
          "mark": {"type": "rect", "height": 34, "color": "#ef5350", "cornerRadiusTopRight": 2, "cornerRadiusBottomRight": 2},
          "encoding": {
            "x": {"datum": 169.7},
            "x2": {"datum": 176.6},
            "y": {"datum": 61.47, "axis": null}
          }
        },
        {
          "data": {"name": "priceTags"},
          "mark": {"type": "text", "align": "left", "color": "white", "fontSize": 14},
          "encoding": {
            "x": {"datum": 170.8},
            "y": {"field": "at", "type": "quantitative", "axis": null},
            "text": {"field": "label"}
          }
        },
        {
          "mark": {"type": "text", "align": "left", "color": "white", "fontSize": 14},
          "encoding": {"x": {"datum": 170.8}, "y": {"datum": 61.91, "axis": null}, "text": {"value": "61,86"}}
        },
        {
          "mark": {"type": "text", "align": "left", "color": "#ffc9c7", "fontSize": 14},
          "encoding": {"x": {"datum": 170.8}, "y": {"datum": 61.1, "axis": null}, "text": {"value": "18:24:48"}}
        }
      ]
    },
    {
      "width": 1711,
      "height": 145,
      "data": {"values": [{}]},
      "resolve": {"axis": {"y": "independent"}},
      "layer": [
        {
          "mark": {"type": "rect", "fill": null, "stroke": "#f0f3fa", "strokeWidth": 2.5},
          "encoding": {
            "x": {"datum": -0.42, "scale": {"domain": [-0.318, 169.64], "nice": false, "zero": false, "padding": 0},
              "axis": {"values": [12,31,52,73,94,114,136,157], "grid": true, "labelPadding": 8, "labelFontWeight": 500, "labelExpr": "{'12':'Feb','31':'Mar','52':'Apr','73':'Mei','94':'Jun','114':'Jul','136':'Agst','157':'Sep'}[datum.value]"}},
            "x2": {"datum": 177.4},
            "y": {"datum": 84.8, "scale": {"domain": [20.36, 84.8], "nice": false, "zero": false},
              "axis": {"orient": "right", "values": [40,60,80], "domain": true, "domainColor": "#50535e", "domainWidth": 1.2, "grid": true, "labelPadding": 10, "labelExpr": "replace(format(datum.value, '.2f'), '.', ',')"}},
            "y2": {"datum": 5.16}
          }
        },
        {
          "mark": {"type": "rect", "color": "#9d2fe6", "opacity": 0.1},
          "encoding": {"y": {"datum": 70, "axis": null}, "y2": {"datum": 30}}
        },
        {
          "mark": {"type": "rule", "color": "#9598a1", "strokeDash": [5, 4], "strokeWidth": 1},
          "encoding": {"y": {"datum": 70, "axis": null}}
        },
        {
          "mark": {"type": "rule", "color": "#9598a1", "strokeDash": [5, 4], "strokeWidth": 1},
          "encoding": {"y": {"datum": 50, "axis": null}}
        },
        {
          "mark": {"type": "rule", "color": "#9598a1", "strokeDash": [5, 4], "strokeWidth": 1},
          "encoding": {"y": {"datum": 30, "axis": null}}
        },
        {
          "mark": {"type": "rule", "color": "#50535e", "strokeWidth": 1.2},
          "encoding": {"x": {"datum": -0.318}, "x2": {"datum": 177.4}, "y": {"datum": 20.36, "axis": null}}
        },
        {
          "mark": {"type": "rule", "color": "#50535e", "strokeWidth": 1.2},
          "encoding": {"x": {"datum": 169.64}, "y": {"datum": 20.36, "axis": null}, "y2": {"datum": 5.16}}
        },
        {
          "data": {"name": "rsiMa"},
          "mark": {"type": "line", "color": "#ffeb3b", "strokeWidth": 1.25},
          "encoding": {
            "x": {"field": "i", "type": "quantitative"},
            "y": {"field": "v", "type": "quantitative", "axis": null}
          }
        },
        {
          "data": {"name": "bars"},
          "mark": {"type": "line", "color": "#ff6d00", "strokeWidth": 1.25},
          "encoding": {
            "x": {"field": "i", "type": "quantitative"},
            "y": {"field": "rsi", "type": "quantitative", "axis": null}
          }
        },
        {
          "data": {"name": "rsiTags"},
          "mark": {"type": "rect", "height": 19, "cornerRadiusTopRight": 2, "cornerRadiusBottomRight": 2},
          "encoding": {
            "x": {"datum": 169.7},
            "x2": {"datum": 174.55},
            "y": {"field": "at", "type": "quantitative", "axis": null},
            "color": {"condition": {"test": "datum.name === 'ma'", "value": "#ffeb3b"}, "value": "#ff6d00"}
          }
        },
        {
          "data": {"name": "rsiTags"},
          "mark": {"type": "text", "align": "left", "fontSize": 14},
          "encoding": {
            "x": {"datum": 170.8},
            "y": {"field": "at", "type": "quantitative", "axis": null},
            "text": {"field": "label"},
            "color": {"condition": {"test": "datum.name === 'ma'", "value": "#131722"}, "value": "white"}
          }
        },
        {
          "mark": {"type": "point", "shape": "M-0.94,-0.465H-0.11V0.465H-0.565V-0.085H-0.94ZM0.01,-0.28A0.18,0.18 0 1,0 0.37,-0.28A0.18,0.18 0 1,0 0.01,-0.28ZM0.425,-0.465H0.94L0.445,0.465H-0.07Z", "size": 1600, "filled": true, "color": "#131722", "opacity": 1},
          "encoding": {"x": {"datum": 1.75}, "y": {"datum": -12.3, "axis": null}}
        },
        {
          "mark": {"type": "text", "align": "left", "font": "Inter", "fontSize": 25.4, "fontWeight": 600, "color": "#131722"},
          "encoding": {"x": {"datum": 4.3}, "y": {"datum": -12.3, "axis": null}, "text": {"value": "TradingView"}}
        }
      ]
    }
  ]
}
